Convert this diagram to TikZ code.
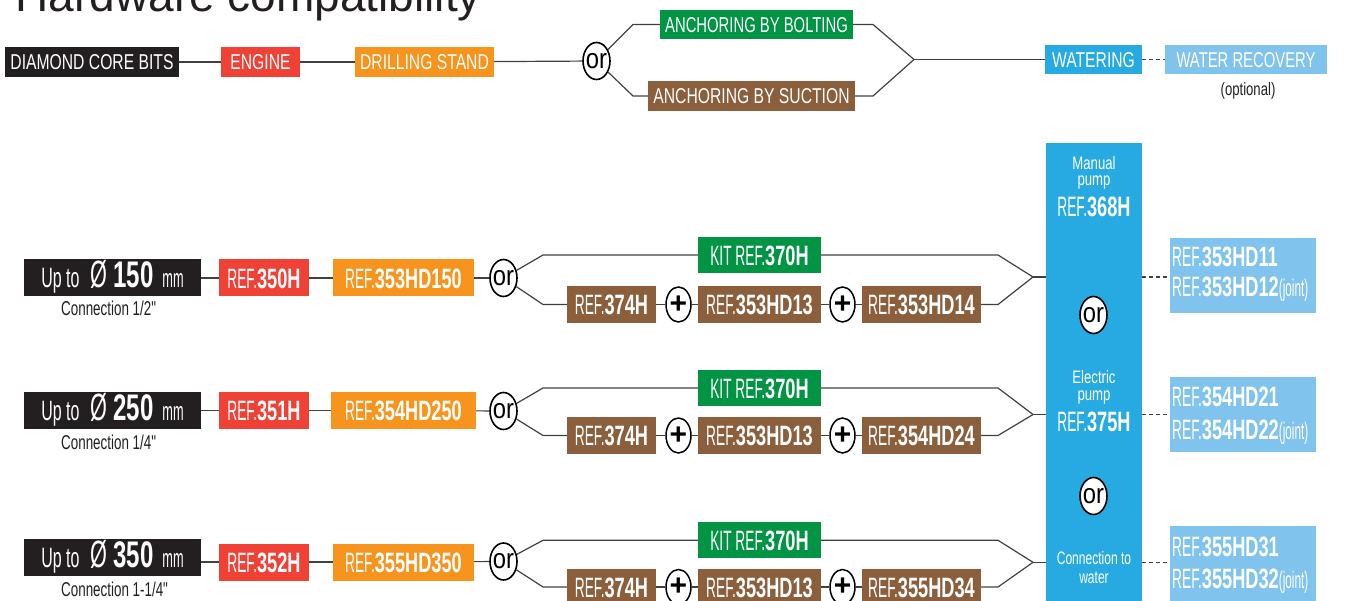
\documentclass[tikz,border=0pt]{standalone}
\usepackage{fontspec}
\setmainfont{Liberation Sans}
\newfontfamily\cnTop[FakeStretch=0.73]{Liberation Sans}
\newfontfamily\cnTopN[FakeStretch=0.69]{Liberation Sans}
\newfontfamily\cnConn[FakeStretch=0.67]{Liberation Sans}
\newfontfamily\cnReg[FakeStretch=0.49]{Liberation Sans}
\newfontfamily\cnBold[FakeStretch=0.65]{Liberation Sans}
\newfontfamily\cnUp[FakeStretch=0.57]{Liberation Sans}
\newfontfamily\cnOr[FakeStretch=0.85]{Liberation Sans}
\usetikzlibrary{shapes.geometric}
\definecolor{cblack}{HTML}{231F20}
\definecolor{cred}{HTML}{EF4136}
\definecolor{corange}{HTML}{F7941D}
\definecolor{cgreen}{HTML}{009444}
\definecolor{cbrown}{HTML}{8B5E3C}
\definecolor{cblue}{HTML}{27AAE1}
\definecolor{clblue}{HTML}{80C3EC}
\definecolor{cline}{HTML}{404040}
\definecolor{ctext}{HTML}{231F20}
\newcommand\RF[1]{{\cnReg REF.}{\cnBold\bfseries #1}}
\newcommand\JT{{\cnReg\fontsize{24}{26}\selectfont(joint)}}
\newcommand\UpTo[1]{{\cnUp\fontsize{28}{30}\selectfont Up to}\hspace{11.5pt}{\cnUp\fontsize{38}{40}\selectfont Ø}\hspace{5.5pt}{\cnBold\bfseries\fontsize{37}{40}\selectfont #1}\hspace{9pt}{\cnReg\fontsize{26}{28}\selectfont mm}}
\begin{document}
\begin{tikzpicture}[x=1pt,y=-1pt,
  ln/.style={draw=cline,line width=1.2pt},
  dln/.style={ln,dash pattern=on 4pt off 3pt},
  tbox/.style={inner sep=0pt,text=white,font=\cnTop\fontsize{21.5}{22}\selectfont,text height=15.6pt,text depth=0pt,minimum height=30pt},
  rbox/.style={inner sep=0pt,text=white,font=\fontsize{28}{30}\selectfont,text height=20.4pt,text depth=0pt,minimum height=37pt},
  kbox/.style={rbox,fill=cgreen,minimum width=123pt,minimum height=36pt},
  bbox/.style={rbox,fill=cbrown},
  lbox/.style={inner sep=0pt,fill=clblue,minimum width=146pt,minimum height=75pt},
  orel/.style={ellipse,draw=black,line width=1.6pt,fill=white,minimum width=27pt,minimum height=37pt,inner sep=0pt,font=\cnOr\fontsize{28}{28}\selectfont},
  pel/.style={ellipse,draw=black,line width=1.5pt,fill=white,minimum width=25pt,minimum height=35pt,inner sep=0pt,font=\bfseries\fontsize{30}{30}\selectfont},
  coltxt/.style={inner sep=0pt,text=white,anchor=base,font=\cnTop\fontsize{18}{18}\selectfont},
  colcon/.style={inner sep=0pt,text=white,anchor=base,font=\cnConn\fontsize{18}{18}\selectfont},
  colref/.style={inner sep=0pt,text=white,anchor=base,font=\fontsize{28}{30}\selectfont},
  lbtxt/.style={inner sep=0pt,text=white,anchor=base west,font=\fontsize{28}{30}\selectfont},
  conn/.style={inner sep=0pt,text=ctext,anchor=base west,font=\cnConn\fontsize{20}{22}\selectfont}
]
\useasboundingbox (0,0) rectangle (1346,601);

% title
\node[anchor=base west,inner sep=0pt,text=ctext,font=\fontsize{46}{48}\selectfont] (title) at (15.5,12) {Hardware compatibility};

% ---- top row ----
\node[tbox,fill=cblack,minimum width=174pt] (dcb) at (92,62) {DIAMOND CORE BITS};
\node[tbox,fill=cred,minimum width=79pt] (eng) at (260.5,62) {ENGINE};
\node[tbox,fill=corange,minimum width=139pt] (drs) at (424.5,62) {DRILLING STAND};
\node[orel] (or0) at (596.5,61) {\makebox[0pt]{or}};
\node[tbox,fill=cgreen,minimum width=193pt,minimum height=29pt,font=\cnTopN\fontsize{21.5}{22}\selectfont] (bolt) at (756.5,24.5) {ANCHORING BY BOLTING};
\node[tbox,fill=cbrown,minimum width=207pt] (suct) at (751.5,96) {ANCHORING BY SUCTION};
\node[tbox,fill=cblue,minimum width=97pt,minimum height=29pt] (wat) at (1093.5,59.5) {WATERING};
\node[tbox,fill=clblue,minimum width=162pt,minimum height=29pt,font=\cnTopN\fontsize{21.5}{22}\selectfont] (rec) at (1246,59.5) {WATER RECOVERY};
\node[anchor=base,inner sep=0pt,text=ctext,font=\cnTop\fontsize{18}{18}\selectfont] (opt) at (1248,95.5) {(optional)};
\coordinate (b0ul) at (633,24.5);
\coordinate (b0ur) at (873,24.5);
\coordinate (b0ll) at (633,96);
\coordinate (b0lr) at (873,96);
\coordinate (m0) at (914,59.5);

% ---- water column ----
\node[inner sep=0pt,fill=cblue,minimum width=96pt,minimum height=470pt,anchor=north] (col) at (1094,143) {};
\node[coltxt] (cm1) at (1094,169.5) {Manual};
\node[coltxt] (cm2) at (1094,186) {pump};
\node[colref] (cr1) at (1094,216.5) {\RF{368H}};
\node[orel] (cor1) at (1093.5,315) {\makebox[0pt]{or}};
\node[coltxt] (ce1) at (1094,383) {Electric};
\node[coltxt] (ce2) at (1094,400) {pump};
\node[colref] (cr2) at (1094,431.7) {\RF{375H}};
\node[orel] (cor2) at (1093.5,496) {\makebox[0pt]{or}};
\node[colcon] (cw1) at (1094,564) {Connection to};
\node[colcon] (cw2) at (1094,583) {water};

% ---- row 1 ----
\node[rbox,fill=cblack,minimum width=177pt] (blk1) at (112.5,277.5) {\UpTo{150}};
\node[conn] (conn1) at (61,316) {Connection 1/2"};
\node[rbox,fill=cred,minimum width=90pt] (red1) at (264,278) {\RF{350H}};
\node[rbox,fill=corange,minimum width=141pt] (ora1) at (403.5,278) {\RF{353HD150}};
\node[orel] (or1) at (503.5,278) {\makebox[0pt]{or}};
\node[kbox] (kit1) at (759.5,255) {{\cnReg KIT REF.}{\cnBold\bfseries 370H}};
\node[bbox,minimum width=89pt] (b1a) at (611.5,304.5) {\RF{374H}};
\node[pel] (p1a) at (678.5,304.5) {\makebox[0pt]{+}};
\node[bbox,minimum width=123pt] (b1b) at (759.5,304.5) {\RF{353HD13}};
\node[pel] (p1b) at (842.5,304.5) {\makebox[0pt]{+}};
\node[bbox,minimum width=119pt] (b1c) at (921.5,304.5) {\RF{353HD14}};
\coordinate (u1l) at (543,255);
\coordinate (u1r) at (998,255);
\coordinate (d1l) at (543,304.5);
\coordinate (d1r) at (998,304.5);
\coordinate (m1) at (1033,277);
\node[lbox] (lb1) at (1243,275.5) {};
\node[lbtxt] (lb1a) at (1172,266.7) {\RF{353HD11}};
\node[lbtxt] (lb1b) at (1172,296.7) {\RF{353HD12}\JT};

% ---- row 2 ----
\node[rbox,fill=cblack,minimum width=177pt] (blk2) at (112.5,410.5) {\UpTo{250}};
\node[conn] (conn2) at (61,449.5) {Connection 1/4"};
\node[rbox,fill=cred,minimum width=90pt] (red2) at (264,410.5) {\RF{351H}};
\node[rbox,fill=corange,minimum width=145pt] (ora2) at (403.5,410.5) {\RF{354HD250}};
\node[orel] (or2) at (503.5,411) {\makebox[0pt]{or}};
\node[kbox] (kit2) at (759.5,388) {{\cnReg KIT REF.}{\cnBold\bfseries 370H}};
\node[bbox,minimum width=89pt] (b2a) at (611.5,435.5) {\RF{374H}};
\node[pel] (p2a) at (678.5,435.5) {\makebox[0pt]{+}};
\node[bbox,minimum width=123pt] (b2b) at (759.5,435.5) {\RF{353HD13}};
\node[pel] (p2b) at (842.5,435.5) {\makebox[0pt]{+}};
\node[bbox,minimum width=119pt] (b2c) at (921.5,435.5) {\RF{354HD24}};
\coordinate (u2l) at (543,388);
\coordinate (u2r) at (998,388);
\coordinate (d2l) at (543,435.5);
\coordinate (d2r) at (998,435.5);
\coordinate (m2) at (1033,414.5);
\node[lbox] (lb2) at (1243,414.5) {};
\node[lbtxt] (lb2a) at (1172,406.7) {\RF{354HD21}};
\node[lbtxt] (lb2b) at (1172,439) {\RF{354HD22}\JT};

% ---- row 3 ----
\node[rbox,fill=cblack,minimum width=177pt] (blk3) at (112.5,557.5) {\UpTo{350}};
\node[conn] (conn3) at (61,596.5) {Connection 1-1/4"};
\node[rbox,fill=cred,minimum width=90pt] (red3) at (264,562) {\RF{352H}};
\node[rbox,fill=corange,minimum width=141pt] (ora3) at (403.5,562) {\RF{355HD350}};
\node[orel] (or3) at (503.5,561.5) {\makebox[0pt]{or}};
\node[kbox] (kit3) at (759.5,540.3) {{\cnReg KIT REF.}{\cnBold\bfseries 370H}};
\node[bbox,minimum width=89pt] (b3a) at (611.5,587) {\RF{374H}};
\node[pel] (p3a) at (678.5,587) {\makebox[0pt]{+}};
\node[bbox,minimum width=123pt] (b3b) at (759.5,587) {\RF{353HD13}};
\node[pel] (p3b) at (842.5,587) {\makebox[0pt]{+}};
\node[bbox,minimum width=119pt] (b3c) at (921.5,587) {\RF{355HD34}};
\coordinate (u3l) at (543,540.3);
\coordinate (u3r) at (998,540.3);
\coordinate (d3l) at (543,587);
\coordinate (d3r) at (998,587);
\coordinate (m3) at (1033,562.3);
\node[lbox] (lb3) at (1243,563.5) {};
\node[lbtxt] (lb3a) at (1172,556.7) {\RF{355HD31}};
\node[lbtxt] (lb3b) at (1172,588.3) {\RF{355HD32}\JT};

% ---- connectors: top row ----
\draw[ln] (dcb) -- (eng);
\draw[ln] (eng) -- (drs);
\draw[ln] (drs) -- (or0);
\draw[ln] (or0) -- (b0ul) -- (bolt.west);
\draw[ln] (bolt.east) -- (b0ur) -- (m0);
\draw[ln] (or0) -- (b0ll) -- (suct.west);
\draw[ln] (suct.east) -- (b0lr) -- (m0);
\draw[ln] (m0) -- (wat);
\draw[dln] (wat) -- (rec);

% ---- connectors: rows ----
\foreach \r in {1,2,3}{
  \draw[ln] (blk\r.east |- red\r.west) -- (red\r.west);
  \draw[ln] (red\r) -- (ora\r);
  \draw[ln] (ora\r) -- (or\r);
  \draw[ln] (or\r) -- (u\r l) -- (kit\r.west);
  \draw[ln] (kit\r.east) -- (u\r r) -- (m\r);
  \draw[ln] (or\r) -- (d\r l) -- (b\r a.west);
  \draw[ln] (b\r a) -- (p\r a);
  \draw[ln] (p\r a) -- (b\r b);
  \draw[ln] (b\r b) -- (p\r b);
  \draw[ln] (p\r b) -- (b\r c);
  \draw[ln] (b\r c.east) -- (d\r r) -- (m\r);
  \draw[ln] (m\r) -- (m\r -| col.west);
  \draw[dln] (m\r -| col.east) -- (m\r -| lb\r.west);
}
\end{tikzpicture}
\end{document}
